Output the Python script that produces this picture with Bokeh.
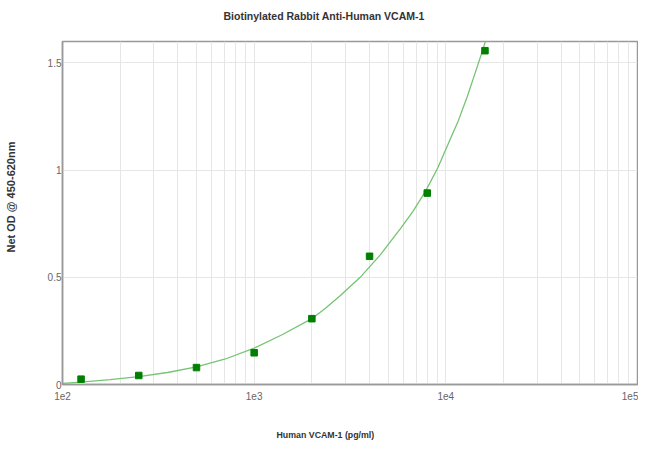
from bokeh.plotting import figure
from bokeh.models import Title, FixedTicker, LinearAxis, LogAxis
from bokeh.embed import file_html
from bokeh.resources import INLINE

# measured standards
conc = [125, 250, 500, 1000, 2000, 4000, 8000, 16000]
od = [0.025, 0.042, 0.079, 0.148, 0.307, 0.598, 0.893, 1.557]

# fitted curve
fit_conc = [100, 125, 177, 250, 353, 500, 708, 1000, 1390, 2000, 2355, 2819,
            3585, 4560, 5797, 6737, 7828, 9097, 10568, 11636, 12914, 14190,
            15576, 17087]
fit_od = [0.005, 0.011, 0.023, 0.037, 0.056, 0.082, 0.119, 0.170, 0.231, 0.307,
          0.356, 0.415, 0.501, 0.606, 0.727, 0.808, 0.901, 1.012, 1.146, 1.232,
          1.341, 1.450, 1.560, 1.677]

x_ticks = [100, 1000, 10000, 100000]
x_tick_labels = ["1e2", "1e3", "1e4", "1e5"]
y_ticks = [0, 0.5, 1, 1.5]
y_tick_labels = ["0", "0.5", "1", "1.5"]

title_text = "Biotinylated Rabbit Anti-Human VCAM-1"
x_label = "Human VCAM-1 (pg/ml)"
y_label = "Net OD @ 450-620nm"

FONT = "Liberation Sans"

p = figure(width=638, height=445, x_axis_type="log", x_range=(100, 100000),
           y_range=(0, 1.6), output_backend="svg", toolbar_location=None,
           min_border_left=62, min_border_right=1, min_border_top=41,
           min_border_bottom=61)
p.background_fill_color = "white"
p.border_fill_color = "white"
p.outline_line_color = "#999999"
p.outline_line_width = 1.5

minor = [m * 10 ** e for e in range(2, 5) for m in range(2, 10)]
p.xaxis.ticker = FixedTicker(ticks=x_ticks, minor_ticks=minor)
p.yaxis.ticker = FixedTicker(ticks=y_ticks)
p.xaxis.major_label_overrides = {float(t): l for t, l in zip(x_ticks, x_tick_labels)}
p.yaxis.major_label_overrides = {float(t): l for t, l in zip(y_ticks, y_tick_labels)}

for ax in (p.xaxis, p.yaxis):
    ax.major_tick_out = 0
    ax.major_tick_in = 0
    ax.minor_tick_out = 0
    ax.minor_tick_in = 0
    ax.axis_line_color = "#999999"
    ax.axis_line_width = 1.5
    ax.major_label_text_font = FONT
    ax.major_label_text_font_size = "10px"
    ax.major_label_text_color = "#666666"
p.xaxis.major_label_standoff = 7
p.yaxis.major_label_standoff = 1

p.xgrid.grid_line_color = "#e6e6e6"
p.xgrid.minor_grid_line_color = "#e6e6e6"
p.ygrid.grid_line_color = "#e6e6e6"

p.line(fit_conc, fit_od, line_color="#74c474", line_width=1.3)
p.scatter(conc, od, marker="square", size=6.5, fill_color="#007f00",
          line_color="#007f00")


def spacer(cls, tick, size):
    # an invisible axis whose only job is to take up room next to the frame
    return cls(ticker=FixedTicker(ticks=[tick]), major_tick_out=size,
               major_tick_in=0, minor_tick_out=0, minor_tick_in=0,
               major_label_standoff=0, major_label_overrides={float(tick): ""},
               major_label_text_font_size="1px", major_label_text_alpha=0,
               axis_line_alpha=0, major_tick_line_alpha=0,
               minor_tick_line_alpha=0)


p.add_layout(spacer(LogAxis, x_ticks[1], 20), "above")
p.add_layout(spacer(LogAxis, x_ticks[1], 25), "below")
p.add_layout(spacer(LinearAxis, y_ticks[1], 28), "left")

txt = dict(text_font=FONT, text_font_style="bold", text_color="#333333",
           align="left", standoff=0)
p.add_layout(Title(text=title_text, offset=161, text_font_size="10.5px", **txt), "above")
p.add_layout(Title(text=x_label, offset=214, text_font_size="8.8px", **txt), "below")
p.add_layout(Title(text=y_label, offset=132, text_font_size="11px", **txt), "left")

open("out.html", "w").write(file_html(p, INLINE))
